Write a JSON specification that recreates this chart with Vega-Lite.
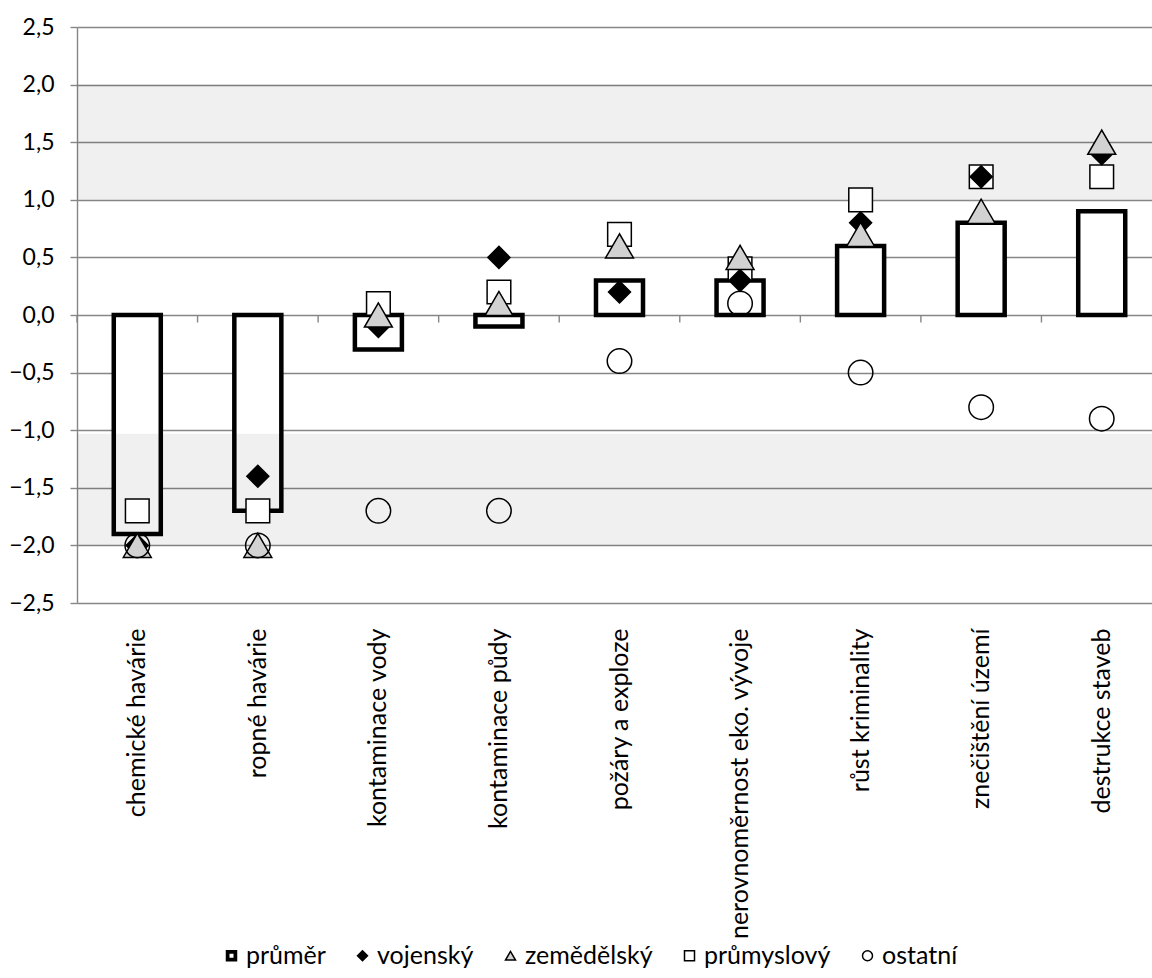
{
  "$schema": "https://vega.github.io/schema/vega-lite/v6.json",
  "width": 1085,
  "height": 576,
  "autosize": {"type": "none"},
  "padding": {"left": 77, "top": 27, "right": 0, "bottom": 375},
  "background": "white",
  "config": {
    "font": "Lato",
    "view": {"stroke": null},
    "axis": {"labelColor": "black", "labelFontSize": 25, "labelFont": "Lato"},
    "legend": {"padding": 0}
  },
  "datasets": {
    "main": [
      {"cat": "chemické havárie", "series": "průměr", "value": -1.9},
      {"cat": "ropné havárie", "series": "průměr", "value": -1.7},
      {"cat": "kontaminace vody", "series": "průměr", "value": -0.3},
      {"cat": "kontaminace půdy", "series": "průměr", "value": -0.1},
      {"cat": "požáry a exploze", "series": "průměr", "value": 0.3},
      {"cat": "nerovnoměrnost eko. vývoje", "series": "průměr", "value": 0.3},
      {"cat": "růst kriminality", "series": "průměr", "value": 0.6},
      {"cat": "znečištění území", "series": "průměr", "value": 0.8},
      {"cat": "destrukce staveb", "series": "průměr", "value": 0.9},
      {"cat": "chemické havárie", "series": "průmyslový", "value": -1.7},
      {"cat": "ropné havárie", "series": "průmyslový", "value": -1.7},
      {"cat": "kontaminace vody", "series": "průmyslový", "value": 0.1},
      {"cat": "kontaminace půdy", "series": "průmyslový", "value": 0.2},
      {"cat": "požáry a exploze", "series": "průmyslový", "value": 0.7},
      {"cat": "nerovnoměrnost eko. vývoje", "series": "průmyslový", "value": 0.4},
      {"cat": "růst kriminality", "series": "průmyslový", "value": 1.0},
      {"cat": "znečištění území", "series": "průmyslový", "value": 1.2},
      {"cat": "destrukce staveb", "series": "průmyslový", "value": 1.2},
      {"cat": "chemické havárie", "series": "vojenský", "value": -2.0},
      {"cat": "ropné havárie", "series": "vojenský", "value": -1.4},
      {"cat": "kontaminace vody", "series": "vojenský", "value": -0.1},
      {"cat": "kontaminace půdy", "series": "vojenský", "value": 0.5},
      {"cat": "požáry a exploze", "series": "vojenský", "value": 0.2},
      {"cat": "nerovnoměrnost eko. vývoje", "series": "vojenský", "value": 0.3},
      {"cat": "růst kriminality", "series": "vojenský", "value": 0.8},
      {"cat": "znečištění území", "series": "vojenský", "value": 1.2},
      {"cat": "destrukce staveb", "series": "vojenský", "value": 1.4},
      {"cat": "chemické havárie", "series": "zemědělský", "value": -2.0},
      {"cat": "ropné havárie", "series": "zemědělský", "value": -2.0},
      {"cat": "kontaminace vody", "series": "zemědělský", "value": 0.0},
      {"cat": "kontaminace půdy", "series": "zemědělský", "value": 0.1},
      {"cat": "požáry a exploze", "series": "zemědělský", "value": 0.6},
      {"cat": "nerovnoměrnost eko. vývoje", "series": "zemědělský", "value": 0.5},
      {"cat": "růst kriminality", "series": "zemědělský", "value": 0.7},
      {"cat": "znečištění území", "series": "zemědělský", "value": 0.9},
      {"cat": "destrukce staveb", "series": "zemědělský", "value": 1.5},
      {"cat": "chemické havárie", "series": "ostatní", "value": -2.0},
      {"cat": "ropné havárie", "series": "ostatní", "value": -2.0},
      {"cat": "kontaminace vody", "series": "ostatní", "value": -1.7},
      {"cat": "kontaminace půdy", "series": "ostatní", "value": -1.7},
      {"cat": "požáry a exploze", "series": "ostatní", "value": -0.4},
      {"cat": "nerovnoměrnost eko. vývoje", "series": "ostatní", "value": 0.1},
      {"cat": "růst kriminality", "series": "ostatní", "value": -0.5},
      {"cat": "znečištění území", "series": "ostatní", "value": -0.8},
      {"cat": "destrukce staveb", "series": "ostatní", "value": -0.9}
    ]
  },
  "data": {"name": "main"},
  "encoding": {
    "x": {
      "field": "cat",
      "type": "nominal",
      "sort": ["chemické havárie", "ropné havárie", "kontaminace vody", "kontaminace půdy", "požáry a exploze", "nerovnoměrnost eko. vývoje", "růst kriminality", "znečištění území", "destrukce staveb"],
      "scale": {"paddingInner": 0, "paddingOuter": 0},
      "axis": {"title": null, "labelAngle": -90, "labelAlign": "right", "labelBaseline": "middle", "ticks": false, "domain": false, "labelPadding": 25, "labelLimit": 0, "grid": false, "labelFontSize": 25}
    }
  },
  "layer": [
    {
      "transform": [{"filter": "datum.series === 'průměr'"}],
      "mark": {"type": "bar", "fill": "white", "stroke": "black", "strokeWidth": 4.5, "width": {"band": 0.39}},
      "encoding": {
        "y": {
          "field": "value",
          "type": "quantitative",
          "title": null,
          "scale": {"domain": [-2.5, 2.5], "nice": false, "zero": false},
          "axis": {
            "values": [-2.5, -2, -1.5, -1, -0.5, 0, 0.5, 1, 1.5, 2, 2.5],
            "labelExpr": "replace(format(datum.value, '.1f'), '.', ',')",
            "grid": true, "gridColor": "#868686", "gridWidth": 1.4,
            "domainColor": "#868686", "domainWidth": 1.4,
            "tickColor": "#868686", "tickWidth": 1.4, "tickSize": 7,
            "labelPadding": 16, "labelFontSize": 23
          }
        }
      }
    },
    {
      "data": {"values": [{}]},
      "mark": {"type": "rect", "fill": "black", "opacity": 0.06},
      "encoding": {"x": null, "y": {"datum": 1, "type": "quantitative"}, "y2": {"datum": 2}}
    },
    {
      "data": {"values": [{}]},
      "mark": {"type": "rect", "fill": "black", "opacity": 0.06},
      "encoding": {"x": null, "y": {"datum": -1.03, "type": "quantitative"}, "y2": {"datum": -2}}
    },
    {
      "transform": [{"filter": "datum.series === 'průměr'"}],
      "mark": {"type": "rule", "stroke": "#868686", "strokeWidth": 1.4},
      "encoding": {
        "x": {"field": "cat", "type": "nominal", "bandPosition": 0, "sort": ["chemické havárie", "ropné havárie", "kontaminace vody", "kontaminace půdy", "požáry a exploze", "nerovnoměrnost eko. vývoje", "růst kriminality", "znečištění území", "destrukce staveb"]},
        "y": {"datum": 0, "type": "quantitative"},
        "y2": {"datum": -0.065}
      }
    },
    {
      "transform": [{"filter": "datum.series === 'průmyslový'"}],
      "mark": {"type": "point", "filled": false, "strokeWidth": 1.5, "opacity": 1, "size": 560},
      "encoding": {
        "y": {"field": "value", "type": "quantitative", "title": null},
        "shape": {
          "field": "series",
          "type": "nominal",
          "scale": {"domain": ["průměr", "vojenský", "zemědělský", "průmyslový", "ostatní"], "range": ["M-1,-1H1V1H-1Z M-0.55,-0.55V0.55H0.55V-0.55Z", "diamond", "triangle-up", "square", "circle"]},
          "legend": {
            "title": null,
            "orient": "none",
            "legendX": 142,
            "legendY": 916,
            "direction": "horizontal",
            "labelFontSize": 25,
            "labelFont": "Lato",
            "labelColor": "black",
            "columnPadding": 24,
            "labelOffset": 2,
            "encode": {"symbols": {"update": {
              "opacity": {"value": 1},
              "size": {"value": 200}
            }}}
          }
        },
        "fill": {
          "field": "series",
          "type": "nominal",
          "scale": {"domain": ["průměr", "vojenský", "zemědělský", "průmyslový", "ostatní"], "range": ["black", "black", "#d2d2d2", "white", "transparent"]}
        },
        "stroke": {
          "field": "series",
          "type": "nominal",
          "scale": {"domain": ["průměr", "vojenský", "zemědělský", "průmyslový", "ostatní"], "range": ["black", "black", "black", "black", "black"]}
        }
      }
    },
    {
      "transform": [{"filter": "datum.series === 'vojenský'"}],
      "mark": {"type": "point", "filled": false, "strokeWidth": 1.5, "opacity": 1, "size": 484},
      "encoding": {
        "y": {"field": "value", "type": "quantitative", "title": null},
        "shape": {"field": "series", "type": "nominal"},
        "fill": {"field": "series", "type": "nominal"},
        "stroke": {"field": "series", "type": "nominal"}
      }
    },
    {
      "transform": [{"filter": "datum.series === 'zemědělský'"}],
      "mark": {"type": "point", "filled": false, "strokeWidth": 1.5, "opacity": 1, "size": 780},
      "encoding": {
        "y": {"field": "value", "type": "quantitative", "title": null},
        "shape": {"field": "series", "type": "nominal"},
        "fill": {"field": "series", "type": "nominal"},
        "stroke": {"field": "series", "type": "nominal"}
      }
    },
    {
      "transform": [{"filter": "datum.series === 'ostatní'"}],
      "mark": {"type": "point", "filled": false, "strokeWidth": 1.5, "opacity": 1, "size": 600},
      "encoding": {
        "y": {"field": "value", "type": "quantitative", "title": null},
        "shape": {"field": "series", "type": "nominal"},
        "fill": {"field": "series", "type": "nominal"},
        "stroke": {"field": "series", "type": "nominal"}
      }
    }
  ]
}
